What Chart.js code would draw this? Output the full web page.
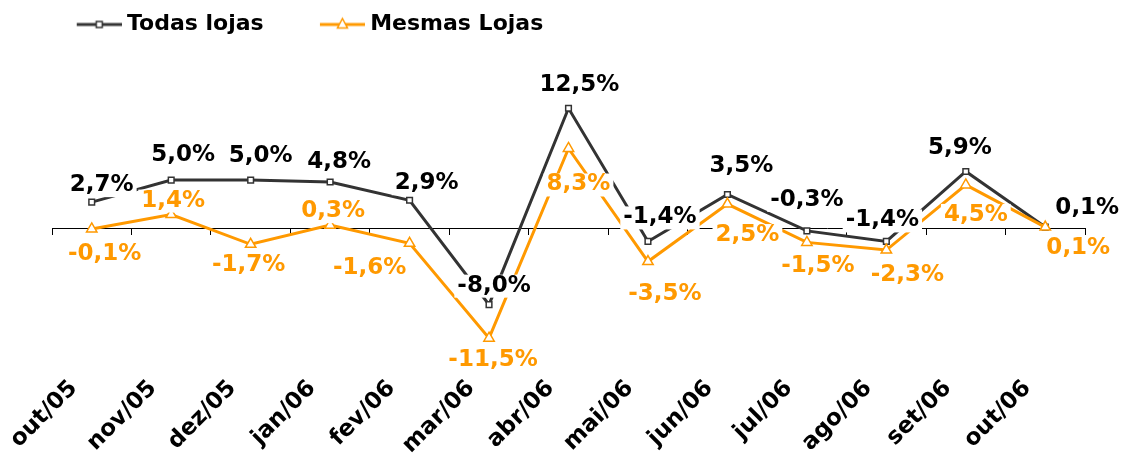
<!DOCTYPE html>
<html><head><meta charset="utf-8">
<script src="https://cdn.jsdelivr.net/npm/chart.js@4.4.1/dist/chart.umd.min.js"></script>
<style>html,body{margin:0;padding:0;background:#fff;}#wrap{width:1123px;height:457px;}</style>
</head><body><div id="wrap"><canvas id="c" width="1123" height="457"></canvas></div>
<script>
// ---- data ----
const categories = ['out/05','nov/05','dez/05','jan/06','fev/06','mar/06','abr/06','mai/06','jun/06','jul/06','ago/06','set/06','out/06'];
const todasLojas = [2.7, 5.0, 5.0, 4.8, 2.9, -8.0, 12.5, -1.4, 3.5, -0.3, -1.4, 5.9, 0.1];
const mesmasLojas = [-0.1, 1.4, -1.7, 0.3, -1.6, -11.5, 8.3, -3.5, 2.5, -1.5, -2.3, 4.5, 0.1];
const seriesNames = ['Todas lojas', 'Mesmas Lojas'];

// ---- style: label offsets relative to each point (px) ----
const todasLabelOffsets = [[10,-17],[12,-25],[10,-24],[9,-20],[17,-17],[5,-19],[11,-23],[12,-24],[14,-28],[0,-31],[-4,-21],[-6,-23],[42,-19]];
const mesmasLabelOffsets = [[13,25],[2,-14],[-2,21],[3,-14],[-40,25],[4,22],[10,36],[17,32],[20,31],[11,24],[21,25],[10,30],[33,21]];

const COL_TODAS = '#333333';
const COL_MESMAS = '#FF9900';
const FONT = 'DejaVu Sans';

function fmt(v){ return v.toFixed(1).replace('.', ',') + '%'; }

function legendImage(color, style){
  const c = document.createElement('canvas');
  c.width = 97; c.height = 22;
  const g = c.getContext('2d');
  g.strokeStyle = color; g.lineWidth = 3;
  g.beginPath(); g.moveTo(52, 11); g.lineTo(97, 11); g.stroke();
  const cx = 74.5, cy = 11;
  g.fillStyle = '#fff'; g.lineWidth = 1.5;
  g.beginPath();
  if (style === 'rect') {
    g.rect(cx-3, cy-3, 6, 6);
  } else {
    g.moveTo(cx, cy-6); g.lineTo(cx+5, cy+3.5); g.lineTo(cx-5, cy+3.5); g.closePath();
  }
  g.fill(); g.stroke();
  return c;
}
const legendImgs = [legendImage(COL_TODAS, 'rect'), legendImage(COL_MESMAS, 'triangle')];

const labelPlugin = {
  id: 'pointLabels',
  afterDatasetsDraw(chart){
    const ctx = chart.ctx;
    ctx.save();
    ctx.font = 'bold 23px "' + FONT + '"';
    ctx.textAlign = 'center';
    ctx.textBaseline = 'middle';
    const specs = [
      {data: todasLojas, offs: todasLabelOffsets, color: '#000000'},
      {data: mesmasLojas, offs: mesmasLabelOffsets, color: COL_MESMAS}
    ];
    specs.forEach((s, di) => {
      const meta = chart.getDatasetMeta(di);
      meta.data.forEach((pt, j) => {
        const txt = fmt(s.data[j]);
        const x = pt.x + s.offs[j][0], y = pt.y + s.offs[j][1];
        const w = ctx.measureText(txt).width;
        ctx.fillStyle = '#ffffff';
        ctx.fillRect(x - w/2 - 3, y - 11, w + 6, 23);
        ctx.fillStyle = s.color;
        ctx.fillText(txt, x, y);
      });
    });
    ctx.restore();
  }
};

new Chart(document.getElementById('c'), {
  type: 'line',
  data: {
    labels: categories,
    datasets: [
      {label: seriesNames[0], data: todasLojas, borderColor: COL_TODAS, backgroundColor: COL_TODAS, borderWidth: 3,
       pointStyle: 'rect', pointRadius: 4, pointBackgroundColor: '#fff', pointBorderColor: COL_TODAS, pointBorderWidth: 1.5,
       tension: 0, order: 2},
      {label: seriesNames[1], data: mesmasLojas, borderColor: COL_MESMAS, backgroundColor: COL_MESMAS, borderWidth: 3,
       pointStyle: 'triangle', pointRadius: 6, pointBackgroundColor: '#fff', pointBorderColor: COL_MESMAS, pointBorderWidth: 1.5,
       tension: 0, order: 1}
    ]
  },
  options: {
    responsive: false,
    animation: false,
    events: [],
    layout: {padding: {left: 20.5, right: 38, top: 3.5, bottom: 0}},
    plugins: {
      tooltip: {enabled: false},
      legend: {
        position: 'top', align: 'start',
        labels: {
          usePointStyle: true, pointStyleWidth: 85.5, padding: 10,
          font: {family: FONT, size: 22, weight: 'bold'}, color: '#000',
          sort: (a, b) => a.datasetIndex - b.datasetIndex,
          generateLabels(chart){
            const items = Chart.defaults.plugins.legend.labels.generateLabels(chart);
            items.forEach(it => { it.pointStyle = legendImgs[it.datasetIndex]; });
            return items;
          }
        }
      }
    },
    scales: {
      x: {
        type: 'category', position: 'bottom', offset: true,
        grid: {display: false, drawTicks: false}, border: {display: false},
        ticks: {autoSkip: false, minRotation: 45, maxRotation: 45, padding: 5, labelOffset: -18,
                font: {family: FONT, size: 23, weight: 'bold'}, color: '#000'},
        afterFit(s){ s.height = 87; s.paddingLeft = 0; s.paddingRight = 0; }
      },
      x2: {
        type: 'category', position: {y: 0}, offset: true,
        grid: {display: true, drawOnChartArea: false, drawTicks: true, tickLength: 6, color: '#000', offset: true, lineWidth: 1},
        border: {display: true, color: '#000', width: 1},
        ticks: {display: false}
      },
      y: {
        min: -14.82, max: 19.05, display: true,
        grid: {display: false}, border: {display: false}, ticks: {display: false},
        afterFit(s){ s.width = 31.5; }
      }
    }
  },
  plugins: [labelPlugin]
});
</script></body></html>
